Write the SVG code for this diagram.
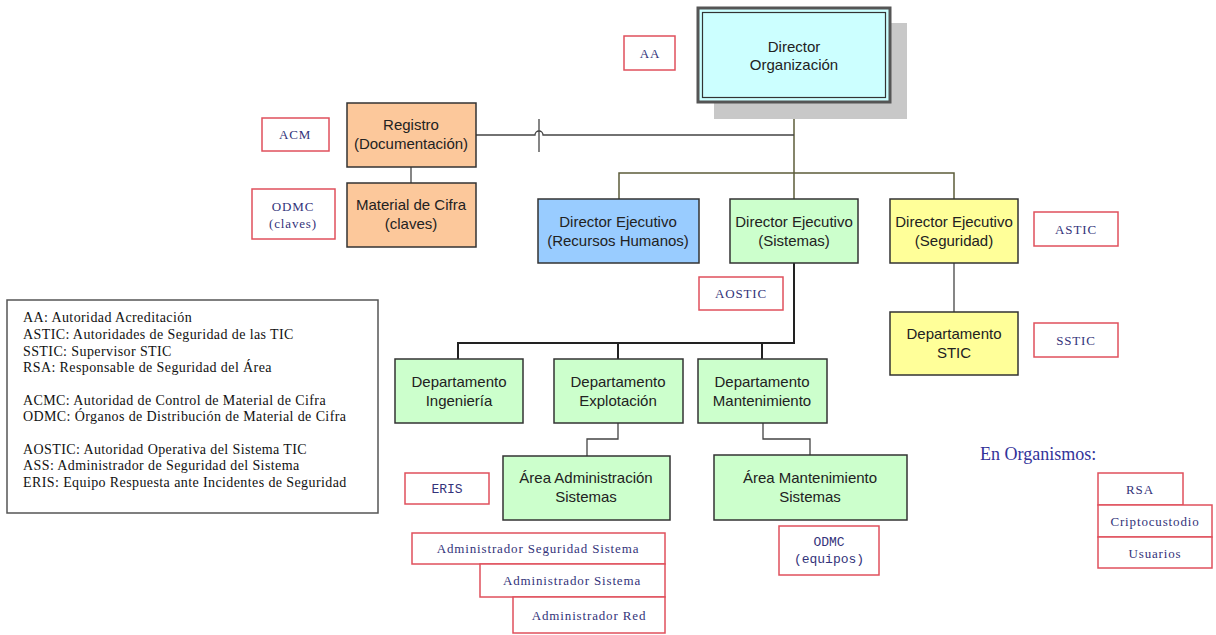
<svg xmlns="http://www.w3.org/2000/svg" width="1216" height="635" viewBox="0 0 1216 635">
<style>
.n{stroke:#333;stroke-width:1.5}
.blue{fill:#99ccff}.green{fill:#ccffcc}.yellow{fill:#ffff99}.orange{fill:#fcc89b}
.nt{font-family:"Liberation Sans",Arial,sans-serif;font-size:15px;fill:#222;text-anchor:middle}
.r{fill:#fff;stroke:#e0505c;stroke-width:1.5}
.rt{font-family:"Liberation Serif","Times New Roman",serif;font-size:13px;fill:#33337a;text-anchor:middle;letter-spacing:0.85px}
.mono{font-family:"Liberation Mono","Courier New",monospace;letter-spacing:0}
.c1{fill:none;stroke:#5c5c3a;stroke-width:1.5}
.c2{fill:none;stroke:#222;stroke-width:2}
.c3{fill:none;stroke:#444;stroke-width:1.3}
.lg{font-family:"Liberation Serif","Times New Roman",serif;font-size:14px;fill:#111;letter-spacing:0.4px}
</style>
<rect width="1216" height="635" fill="#fff"/>
<g id="connectors">
<path class="c1" d="M794,102 V173"/>
<path class="c1" d="M619,199 V173 H954 V199 M794,173 V199"/>
<path class="c3" d="M476,135 H535 A4,4 0 0 1 543,135 H794"/>
<path class="c3" d="M539,119 V152"/>
<path class="c3" d="M411,167 V183"/>
<path class="c2" d="M794,263 V343 H458 V359 M618,343 V359 M762,343 V359"/>
<path class="c3" d="M954,263 V312"/>
<path class="c3" d="M618,423 V439 H587 V456"/>
<path class="c3" d="M763,423 V439 H810 V455"/>
</g>
<g id="director-org">
<rect x="714" y="23" width="193" height="96" fill="#c8c8c8"/>
<rect x="698" y="8" width="192" height="94" fill="#ccffff" stroke="#555" stroke-width="3"/>
<rect x="702.5" y="12.5" width="183" height="85" fill="none" stroke="#333" stroke-width="1.2"/>
<text class="nt" x="794" y="52">Director</text>
<text class="nt" x="794" y="70">Organización</text>
</g>
<g id="aa"><rect class="r" x="624" y="36" width="51" height="34"/><text class="rt" x="650" y="58">AA</text></g>
<g id="registro"><rect class="n orange" x="347" y="103" width="129" height="64"/><text class="nt" x="411" y="130">Registro</text><text class="nt" x="411" y="149">(Documentación)</text></g>
<g id="material"><rect class="n orange" x="347" y="183" width="129" height="64"/><text class="nt" x="411" y="210">Material de Cifra</text><text class="nt" x="411" y="229">(claves)</text></g>
<g id="acm"><rect class="r" x="262" y="118" width="67" height="33"/><text class="rt" x="295" y="139">ACM</text></g>
<g id="odmc-claves"><rect class="r" x="252" y="189" width="83" height="50"/><text class="rt" x="293" y="211">ODMC</text><text class="rt" x="293" y="228">(claves)</text></g>
<g id="de-rh"><rect class="n blue" x="538" y="199" width="161" height="64"/><text class="nt" x="618" y="227">Director Ejecutivo</text><text class="nt" x="618" y="246">(Recursos Humanos)</text></g>
<g id="de-sistemas"><rect class="n green" x="730" y="199" width="128" height="64"/><text class="nt" x="794" y="227">Director Ejecutivo</text><text class="nt" x="794" y="246">(Sistemas)</text></g>
<g id="de-seguridad"><rect class="n yellow" x="890" y="199" width="128" height="64"/><text class="nt" x="954" y="227">Director Ejecutivo</text><text class="nt" x="954" y="246">(Seguridad)</text></g>
<g id="astic"><rect class="r" x="1034" y="212" width="84" height="34"/><text class="rt" x="1076" y="234">ASTIC</text></g>
<g id="aostic"><rect class="r" x="699" y="277" width="84" height="33"/><text class="rt" x="741" y="298">AOSTIC</text></g>
<g id="dept-stic"><rect class="n yellow" x="890" y="312" width="128" height="63"/><text class="nt" x="954" y="339">Departamento</text><text class="nt" x="954" y="358">STIC</text></g>
<g id="sstic"><rect class="r" x="1034" y="323" width="84" height="34"/><text class="rt" x="1076" y="345">SSTIC</text></g>
<g id="dept-ing"><rect class="n green" x="395" y="359" width="128" height="64"/><text class="nt" x="459" y="387">Departamento</text><text class="nt" x="459" y="406">Ingeniería</text></g>
<g id="dept-exp"><rect class="n green" x="554" y="359" width="129" height="64"/><text class="nt" x="618" y="387">Departamento</text><text class="nt" x="618" y="406">Explotación</text></g>
<g id="dept-mant"><rect class="n green" x="698" y="359" width="129" height="64"/><text class="nt" x="762" y="387">Departamento</text><text class="nt" x="762" y="406">Mantenimiento</text></g>
<g id="area-admin"><rect class="n green" x="503" y="456" width="167" height="64"/><text class="nt" x="586" y="483">Área Administración</text><text class="nt" x="586" y="502">Sistemas</text></g>
<g id="area-mant"><rect class="n green" x="714" y="455" width="193" height="65"/><text class="nt" x="810" y="483">Área Mantenimiento</text><text class="nt" x="810" y="502">Sistemas</text></g>
<g id="eris"><rect class="r" x="405" y="473" width="84" height="31"/><text class="rt mono" x="447" y="493">ERIS</text></g>
<g id="odmc-equipos"><rect class="r" x="779" y="526" width="100" height="49"/><text class="rt mono" x="829" y="546">ODMC</text><text class="rt mono" x="829" y="563">(equipos)</text></g>
<g id="admin-seg"><rect class="r" x="412" y="533" width="253" height="31"/><text class="rt" x="538" y="553">Administrador Seguridad Sistema</text></g>
<g id="admin-sis"><rect class="r" x="480" y="564" width="185" height="33"/><text class="rt" x="572" y="585">Administrador Sistema</text></g>
<g id="admin-red"><rect class="r" x="513" y="597" width="152" height="36"/><text class="rt" x="589" y="620">Administrador Red</text></g>
<g id="legend">
<rect x="7" y="300" width="371" height="213" fill="#fff" stroke="#555" stroke-width="1.5"/>
<text class="lg" x="23" y="322">AA: Autoridad Acreditación</text>
<text class="lg" x="23" y="339">ASTIC: Autoridades de Seguridad de las TIC</text>
<text class="lg" x="23" y="356">SSTIC: Supervisor STIC</text>
<text class="lg" x="23" y="372">RSA: Responsable de Seguridad del Área</text>
<text class="lg" x="23" y="405">ACMC: Autoridad de Control de Material de Cifra</text>
<text class="lg" x="23" y="421">ODMC: Órganos de Distribución de Material de Cifra</text>
<text class="lg" x="23" y="454">AOSTIC: Autoridad Operativa del Sistema TIC</text>
<text class="lg" x="23" y="470">ASS: Administrador de Seguridad del Sistema</text>
<text class="lg" x="23" y="487">ERIS: Equipo Respuesta ante Incidentes de Seguridad</text>
</g>
<g id="organismos">
<text x="980" y="460" font-family="'Liberation Serif','Times New Roman',serif" font-size="18" fill="#333399">En Organismos:</text>
<rect class="r" x="1098" y="473" width="85" height="32"/><text class="rt" x="1140" y="494">RSA</text>
<rect class="r" x="1098" y="505" width="114" height="32"/><text class="rt" x="1155" y="526">Criptocustodio</text>
<rect class="r" x="1098" y="537" width="114" height="31"/><text class="rt" x="1155" y="558">Usuarios</text>
</g>
</svg>
